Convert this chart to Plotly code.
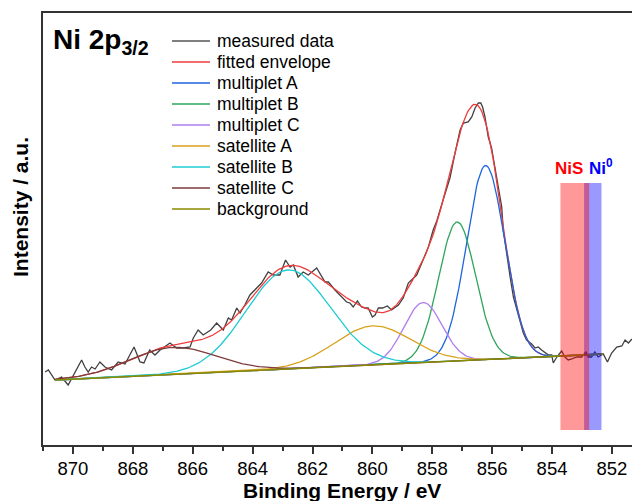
import numpy as np
import plotly.graph_objects as go

# ---------------- data ----------------
# measured spectrum: binding energy (eV) and intensity (a.u.)
meas_energy = [870.93, 870.82, 870.60, 870.38, 870.16, 869.99, 869.71, 869.60, 869.49, 869.38,
               869.26, 869.10, 868.93, 868.71, 868.49, 868.26, 867.96, 867.76, 867.63, 867.44,
               867.26, 867.09, 866.76, 866.54, 866.32, 866.09, 865.98, 865.82, 865.65, 865.40,
               865.20, 864.98, 864.81, 864.70, 864.53, 864.42, 864.26, 864.09, 863.92, 863.70,
               863.48, 863.31, 863.09, 862.90, 862.75, 862.64, 862.48, 862.31, 862.14, 861.86,
               861.58, 861.47, 861.25, 861.03, 860.86, 860.75, 860.64, 860.50, 860.36, 860.25,
               860.14, 860.00, 859.91, 859.80, 859.66, 859.50, 859.36, 859.13, 858.97, 858.80,
               858.69, 858.52, 858.35, 858.13, 857.97, 857.85, 857.69, 857.52, 857.41, 857.24,
               857.07, 856.96, 856.80, 856.68, 856.57, 856.46, 856.38, 856.32, 856.24, 856.13,
               856.02, 855.91, 855.80, 855.68, 855.63, 855.51, 855.40, 855.29, 855.18, 855.13,
               855.07, 854.96, 854.85, 854.68, 854.57, 854.46, 854.35, 854.24, 854.12, 854.01,
               853.96, 853.84, 853.68, 853.57, 853.46, 853.34, 853.18, 853.01, 852.87, 852.79,
               852.68, 852.57, 852.46, 852.29, 852.15, 852.01, 851.84, 851.67, 851.56, 851.45,
               851.33]
meas_intensity = [73, 75, 65, 68, 60, 70, 85, 78, 73, 78,
                  76, 83, 78, 75, 83, 81, 98, 83, 82, 95,
                  90, 95, 102, 97, 97, 98, 107, 115, 110, 115,
                  122, 115, 127, 125, 137, 132, 140, 150, 155, 162,
                  173, 170, 170, 185, 178, 180, 168, 173, 170, 177,
                  163, 163, 155, 148, 143, 142, 138, 144, 138, 137,
                  137, 128, 130, 137, 137, 139, 135, 140, 147, 162,
                  165, 170, 182, 198, 215, 224, 240, 255, 267, 292,
                  315, 322, 323, 328, 337, 342, 342, 338, 328, 308,
                  297, 278, 258, 238, 215, 188, 168, 148, 135, 130,
                  123, 112, 105, 101, 97, 98, 95, 93, 90, 90,
                  82, 88, 94, 88, 85, 86, 88, 88, 93, 88,
                  88, 93, 88, 91, 83, 92, 98, 99, 105, 102,
                  106]

# fit: linear background end points
bg_energy = [870.60, 852.30]
bg_intensity = [65, 91]

# fitted components (Gaussian): centre (eV), height above background, FWHM (eV)
comp_names = ["multiplet A", "multiplet B", "multiplet C", "satellite A", "satellite B", "satellite C"]
comp_center = [856.22, 857.17, 858.31, 860.00, 862.82, 866.67]
comp_height = [194, 139, 60, 39, 99, 27]
comp_fwhm = [1.50, 1.45, 1.50, 3.00, 3.30, 3.40]
comp_colors = ["#1f65e0", "#2ea45c", "#b07df0", "#d8a21e", "#1ccbd3", "#7d3c3c"]

measured_color = "#404040"
envelope_color = "#f03c3c"
background_color = "#8a8a00"

# reference ranges (eV)
nis_range = [853.72, 852.76]
ni0_range = [852.93, 852.35]

x_ticks = [870, 868, 866, 864, 862, 860, 858, 856, 854, 852]

# ---------------- build fit curves ----------------
fit_e = np.linspace(bg_energy[0], bg_energy[1], 400)
bg = np.interp(fit_e, bg_energy[::-1], bg_intensity[::-1])


def gauss(e, c, h, w):
    return h * np.exp(-4 * np.log(2) * (e - c) ** 2 / w ** 2)


comps = [gauss(fit_e, c, h, w) for c, h, w in zip(comp_center, comp_height, comp_fwhm)]
envelope = bg + np.sum(comps, axis=0)

fig = go.Figure()
legend_items = []
fig.add_trace(go.Scatter(x=meas_energy, y=meas_intensity, mode="lines", name="measured data",
                         line=dict(color=measured_color, width=1.3), showlegend=False))
legend_items.append(("measured data", "#555555"))
fig.add_trace(go.Scatter(x=fit_e, y=envelope, mode="lines", name="fitted envelope",
                         line=dict(color=envelope_color, width=1.3), showlegend=False))
legend_items.append(("fitted envelope", envelope_color))
for name, comp, col in zip(comp_names, comps, comp_colors):
    fig.add_trace(go.Scatter(x=fit_e, y=bg + comp, mode="lines", name=name,
                             line=dict(color=col, width=1.3), showlegend=False))
    legend_items.append((name, col))
fig.add_trace(go.Scatter(x=fit_e, y=bg, mode="lines", name="background",
                         line=dict(color=background_color, width=1.5), showlegend=False))
legend_items.append(("background", background_color))

# ---------------- manual legend (compact row spacing as in the reference) ----------------
L, T, W, H = 43, 13, 589, 432  # plot area in px


def px_x(px):
    return (px - L) / W


def px_y(py):
    return (T + H - py) / H


for i, (name, col) in enumerate(legend_items):
    row_y = 41 + 21 * i
    fig.add_shape(type="line", xref="paper", yref="paper",
                  x0=px_x(172), x1=px_x(210), y0=px_y(row_y), y1=px_y(row_y),
                  line=dict(color=col, width=1.6))
    fig.add_annotation(x=px_x(215), y=px_y(row_y), xref="paper", yref="paper",
                       xanchor="left", yanchor="middle", text=name, showarrow=False,
                       font=dict(family="Arial", size=17.5, color="#000000"))

# reference bands (drawn above the traces)
fig.add_shape(type="rect", xref="x", yref="y", x0=ni0_range[0], x1=ni0_range[1], y0=15, y1=262,
              fillcolor="rgba(0,0,255,0.4)", line=dict(width=0), layer="above")
fig.add_shape(type="rect", xref="x", yref="y", x0=nis_range[0], x1=nis_range[1], y0=15, y1=262,
              fillcolor="rgba(255,0,0,0.4)", line=dict(width=0), layer="above")

fig.add_annotation(x=853.45, y=262, xref="x", yref="y",
                   text="<b>NiS</b>", showarrow=False, yanchor="bottom", yshift=3,
                   font=dict(family="Arial", size=17, color="#ff0000"))
fig.add_annotation(x=852.84, y=262, xref="x", yref="y", xanchor="left",
                   text="<b>Ni<sup>0</sup></b>", showarrow=False, yanchor="bottom", yshift=3,
                   font=dict(family="Arial", size=17, color="#0000ff"))

fig.add_annotation(x=px_x(51), y=px_y(22), xref="paper", yref="paper", xanchor="left", yanchor="top",
                   text="<b>Ni 2p<sub>3/2</sub></b>", showarrow=False,
                   font=dict(family="Arial", size=28, color="#000000"))

# axis titles as annotations (placed as in the reference)
fig.add_annotation(x=px_x(20), y=px_y(207), xref="paper", yref="paper", xanchor="center", yanchor="middle",
                   text="<b>Intensity / a.u.</b>", showarrow=False, textangle=-90,
                   font=dict(family="Arial", size=21, color="#000000"))
fig.add_annotation(x=px_x(342), y=px_y(490), xref="paper", yref="paper", xanchor="center", yanchor="middle",
                   text="<b>Binding Energy / eV</b>", showarrow=False,
                   font=dict(family="Arial", size=21, color="#000000"))

fig.update_layout(
    width=632, height=501,
    margin=dict(l=L, r=0, t=T, b=501 - T - H),
    plot_bgcolor="white", paper_bgcolor="white",
    font=dict(family="Arial", color="#000000"),
    showlegend=False,
    xaxis=dict(range=[871.0, 851.33], tickmode="array", tickvals=x_ticks,
               ticks="outside", ticklen=7, tickwidth=1.5, tickcolor="#333333",
               minor=dict(dtick=1, ticks="outside", ticklen=4, tickwidth=1.5, tickcolor="#333333"),
               showline=True, linecolor="#333333", linewidth=1.8, mirror=True,
               showgrid=False, zeroline=False, ticklabelstandoff=-1,
               tickfont=dict(family="Arial", size=18.5, color="#000000")),
    yaxis=dict(range=[0, 432], showticklabels=False, ticks="",
               showline=True, linecolor="#333333", linewidth=1.8,
               showgrid=False, zeroline=False),
)

fig.write_html("out.html")
